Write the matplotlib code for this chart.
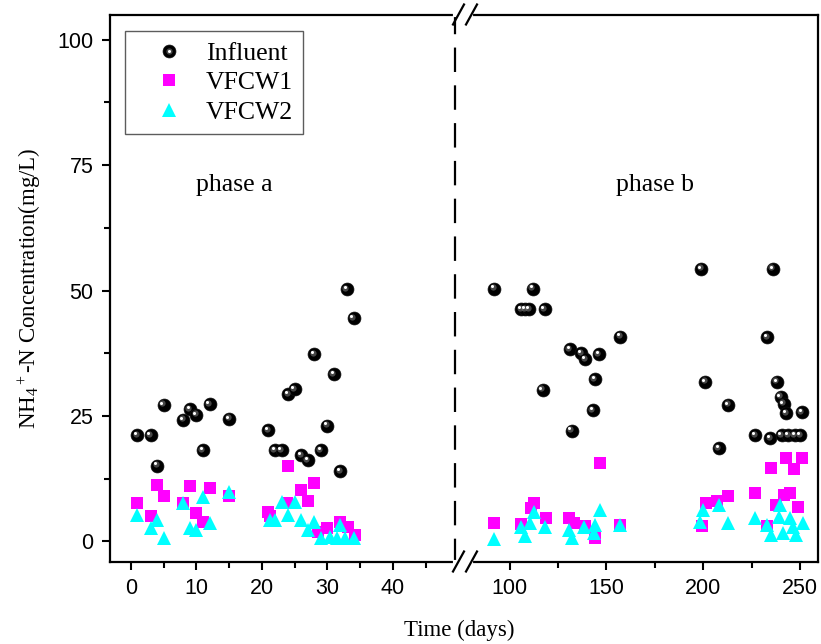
import matplotlib
matplotlib.use("Agg")
import matplotlib.pyplot as plt
from matplotlib.lines import Line2D
from matplotlib.transforms import offset_copy
from matplotlib.legend_handler import HandlerTuple

plt.rcParams['font.family'] = 'Liberation Sans'
plt.rcParams['mathtext.fontset'] = 'custom'
plt.rcParams['mathtext.rm'] = 'Liberation Serif'
plt.rcParams['mathtext.it'] = 'Liberation Serif:italic'

# phase a (days 0-40)
inf_a_day = [1, 3, 4, 5, 8, 9, 10, 11, 12, 15, 21, 22, 23, 24, 25, 26, 27, 28, 29, 30, 31, 32, 33, 34]
inf_a = [21.2, 21.2, 15.1, 27.2, 24.2, 26.3, 25.2, 18.2, 27.3, 24.4, 22.2, 18.2, 18.2, 29.3, 30.3,
         17.2, 16.2, 37.3, 18.2, 23.1, 33.3, 14.0, 50.3, 44.5]
v1_a_day = [1, 3, 4, 5, 8, 9, 10, 11, 12, 15, 21, 21.2, 23.8, 24, 26, 27, 28, 28.6, 30, 32, 33.2, 34.2]
v1_a = [7.6, 5.1, 11.2, 9.1, 7.6, 11.1, 5.6, 3.9, 10.6, 9.1, 5.9, 5.0, 7.7, 15.1, 10.3, 8.1, 11.6,
        1.9, 2.6, 3.9, 2.9, 1.3]
v2_a_day = [1, 3, 4, 5, 8, 9, 10, 11, 12, 15, 21.2, 22, 23, 24, 25, 26, 27, 28, 29, 30.4, 31.4, 32,
            32.7, 34]
v2_a = [5.3, 2.6, 4.3, 0.6, 7.7, 2.6, 2.3, 8.9, 3.7, 9.9, 4.3, 4.3, 7.9, 5.3, 7.9, 4.3, 2.3, 3.9,
        0.6, 0.8, 0.6, 3.3, 0.6, 0.6]

# phase b (days 90-255)
inf_b_day = [92, 106, 108, 110, 112, 117, 118, 131, 132, 137, 139, 143, 144, 146, 157, 199, 201, 208,
             213, 227, 233, 234.5, 236, 238, 240, 240.5, 241.5, 243, 244, 247.4, 250, 251]
inf_b = [50.4, 46.3, 46.3, 46.3, 50.4, 30.2, 46.3, 38.3, 22.1, 37.5, 36.3, 26.1, 32.3, 37.3, 40.8,
         54.3, 31.8, 18.6, 27.2, 21.2, 40.7, 20.6, 54.3, 31.8, 28.8, 21.2, 27.4, 25.5, 21.2, 21.2,
         21.2, 25.7]
v1_b_day = [92, 106, 111, 112.5, 118.6, 130.6, 133, 139, 144.3, 146.5, 157, 199.3, 201.5, 207, 213,
            227, 233, 235, 237.8, 241.5, 243, 245, 247, 249, 251]
v1_b = [3.6, 3.4, 6.6, 7.6, 4.6, 4.6, 3.6, 3.1, 0.6, 15.6, 3.3, 3.0, 7.6, 8.0, 9.1, 9.6, 3.0, 14.6,
        7.3, 9.3, 16.6, 9.6, 14.4, 6.9, 16.6]
v2_b_day = [92, 106, 108, 110.5, 112.5, 118, 130.6, 132.4, 138.4, 143.4, 144.3, 146.5, 157, 198.5,
            200, 208, 213, 227, 233, 235, 239, 239.7, 241.4, 244.8, 246.4, 248, 251.5]
v2_b = [0.4, 2.9, 1.1, 3.6, 5.9, 2.9, 2.3, 0.6, 2.9, 1.6, 3.3, 6.3, 3.3, 3.9, 6.3, 7.3, 3.6, 4.6,
        3.3, 1.3, 4.9, 7.3, 1.6, 4.6, 2.9, 1.3, 3.6]

W, H = 821, 644
fig = plt.figure(figsize=(W / 100, H / 100), dpi=100)
bot = (H - 561.5) / H
hgt = 547 / H
ax1 = fig.add_axes([110 / W, bot, (455 - 110) / W, hgt])
ax2 = fig.add_axes([471 / W, bot, (818 - 471) / W, hgt])

MAG = '#ff00ff'
CYN = '#00ffff'


def draw(ax, d_inf, y_inf, d1, y1, d2, y2):
    base = ax.plot(d_inf, y_inf, 'o', ms=9.3, color='black', mec='#111111', mew=0.5, zorder=3)[0]
    t1 = offset_copy(ax.transData, fig=fig, x=-1.5, y=1.5, units='dots')
    t2 = offset_copy(ax.transData, fig=fig, x=-2.2, y=2.2, units='dots')
    hl1 = ax.plot(d_inf, y_inf, 'o', ms=4.5, color='#777777', mew=0, alpha=0.6, transform=t1, zorder=4)[0]
    hl2 = ax.plot(d_inf, y_inf, 'o', ms=2.2, color='white', mew=0, transform=t2, zorder=5)[0]
    sq = ax.plot(d1, y1, 's', ms=8.5, color=MAG, mew=0, zorder=3)[0]
    tr = ax.plot(d2, y2, '^', ms=10.5, color=CYN, mew=0, zorder=3)[0]
    return (base, hl1, hl2), sq, tr


h_inf, h_v1, h_v2 = draw(ax1, inf_a_day, inf_a, v1_a_day, v1_a, v2_a_day, v2_a)
draw(ax2, inf_b_day, inf_b, v1_b_day, v1_b, v2_b_day, v2_b)

for ax in (ax1, ax2):
    ax.set_ylim(-4, 105)
    for s in ax.spines.values():
        s.set_linewidth(1.6)
    ax.tick_params(which='major', direction='out', length=6, width=1.5, labelsize=15.5, pad=6)
    ax.tick_params(which='minor', direction='out', length=4, width=1.5)

ax1.set_xlim(-3.2, 49.5)
ax1.set_xticks([0, 10, 20, 30, 40])
ax1.set_xticks([5, 15, 25, 35, 45], minor=True)
ax1.set_yticks([0, 25, 50, 75, 100])
ax1.set_yticks([12.5, 37.5, 62.5, 87.5], minor=True)
ax1.spines['right'].set_linestyle((0, (10, 7)))

ax2.set_xlim(80, 259.3)
ax2.set_xticks([100, 150, 200, 250])
ax2.set_xticks([125, 175, 225], minor=True)
ax2.set_yticks([])
ax2.spines['left'].set_visible(False)

# break marks "//" on top and bottom edges
for yb in (14.5, 561.5):
    fig.add_artist(Line2D([455 / W, 471 / W], [(H - yb) / H] * 2, color='white', lw=3))
    for xs in (453, 466):
        fig.add_artist(Line2D([xs / W, (xs + 11) / W], [(H - yb - 10) / H, (H - yb + 10) / H],
                              color='black', lw=1.6))

serif = 'Liberation Serif'
ax1.text(0.36, 0.688, 'phase a', transform=ax1.transAxes, ha='center', va='center',
         family=serif, fontsize=18.5)
ax2.text(0.53, 0.688, 'phase b', transform=ax2.transAxes, ha='center', va='center',
         family=serif, fontsize=18.5)

ax1.set_ylabel(r'NH$_4$$^+$-N Concentration(mg/L)', family=serif, fontsize=16.5, labelpad=10)
fig.text(459 / W, 14 / H, 'Time (days)', ha='center', va='center', family=serif, fontsize=16.5)

leg = ax1.legend([h_inf, h_v1, h_v2], ['Influent', 'VFCW1', 'VFCW2'],
                 handler_map={tuple: HandlerTuple(ndivide=1, pad=0)},
                 loc='upper left', bbox_to_anchor=(0.043, 0.969), borderaxespad=0,
                 prop={'family': serif, 'size': 18.5}, frameon=True, fancybox=False,
                 edgecolor='#333333', handlelength=2.6, handletextpad=0.15,
                 labelspacing=0.25, borderpad=0.4, markerscale=1.0)
leg.get_frame().set_linewidth(1.0)

fig.savefig('out.png', dpi=100)
